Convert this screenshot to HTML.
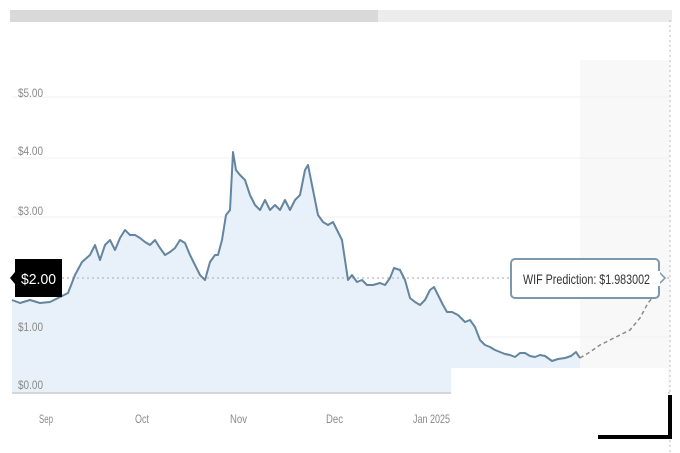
<!DOCTYPE html>
<html><head><style>
body{margin:0;background:#fff;width:680px;height:453px;overflow:hidden;font-family:"Liberation Sans",sans-serif;}
</style></head><body>
<svg width="680" height="453" xmlns="http://www.w3.org/2000/svg" style="position:absolute;left:0;top:0">
<rect x="10" y="10" width="368" height="12" fill="#d9d9d9"/>
<rect x="378" y="10" width="294" height="12" fill="#ececec"/>
<rect x="580" y="60" width="90" height="333" fill="#f8f8f8"/>
<g stroke="#f0f0f0" stroke-width="1">
<line x1="12" y1="97" x2="670" y2="97"/><line x1="12" y1="158" x2="670" y2="158"/>
<line x1="12" y1="217" x2="670" y2="217"/><line x1="12" y1="337" x2="670" y2="337"/>
</g>
<polygon fill="#e8f0f9" points="12,393 12,300 20,303 30,300 40,303 50,302 60,297 68,293 75,275 82,262 90,255 95,245 100,260 105,245 110,240 115,250 120,238 125,230 130,235 135,235 140,238 145,242 150,245 155,240 160,248 165,255 170,252 175,248 180,240 185,243 190,255 195,265 200,275 205,280 210,262 215,255 218,255 222,240 226,215 230,210 233,152 236,170 240,175 245,180 250,195 255,205 260,210 265,200 270,210 275,205 280,210 285,200 290,210 295,200 300,195 305,170 308,165 312,185 318,215 323,222 328,225 333,222 338,232 342,240 345,260 348,280 352,275 357,282 362,280 367,285 373,285 380,283 385,285 390,278 394,268 400,270 405,280 410,298 415,302 420,305 425,300 430,290 434,287 438,295 443,305 447,312 452,312 458,315 465,322 470,320 475,327 480,340 485,345 490,347 495,350 500,352 505,354 510,355 515,357 520,353 525,353 530,356 535,357 540,355 545,356 552,361 558,359 565,358 571,356 576,352 580,358 580,393"/>
<line x1="12" y1="393" x2="670" y2="393" stroke="#ccc" stroke-width="1.5"/>
<line x1="62" y1="278" x2="670" y2="278" stroke="#b0b8c0" stroke-width="1.2" stroke-dasharray="2,3"/>
<line x1="670" y1="20" x2="670" y2="453" stroke="#bbb" stroke-width="1" stroke-dasharray="2,3"/>
<polyline fill="none" stroke="#6485a0" stroke-width="2" stroke-linejoin="round" points="12,300 20,303 30,300 40,303 50,302 60,297 68,293 75,275 82,262 90,255 95,245 100,260 105,245 110,240 115,250 120,238 125,230 130,235 135,235 140,238 145,242 150,245 155,240 160,248 165,255 170,252 175,248 180,240 185,243 190,255 195,265 200,275 205,280 210,262 215,255 218,255 222,240 226,215 230,210 233,152 236,170 240,175 245,180 250,195 255,205 260,210 265,200 270,210 275,205 280,210 285,200 290,210 295,200 300,195 305,170 308,165 312,185 318,215 323,222 328,225 333,222 338,232 342,240 345,260 348,280 352,275 357,282 362,280 367,285 373,285 380,283 385,285 390,278 394,268 400,270 405,280 410,298 415,302 420,305 425,300 430,290 434,287 438,295 443,305 447,312 452,312 458,315 465,322 470,320 475,327 480,340 485,345 490,347 495,350 500,352 505,354 510,355 515,357 520,353 525,353 530,356 535,357 540,355 545,356 552,361 558,359 565,358 571,356 576,352 580,358"/>
<polyline fill="none" stroke="#8a8a8a" stroke-width="1.5" stroke-dasharray="4,3" points="580,358 590,352 600,345 610,340 620,335 630,330 640,318 648,303 653,297"/>
<g fill="#8a8a8a" font-size="12">
<text x="18" y="97" textLength="25" lengthAdjust="spacingAndGlyphs">$5.00</text>
<text x="18" y="155" textLength="25" lengthAdjust="spacingAndGlyphs">$4.00</text>
<text x="18" y="215" textLength="25" lengthAdjust="spacingAndGlyphs">$3.00</text>
<text x="18" y="331" textLength="25" lengthAdjust="spacingAndGlyphs">$1.00</text>
<text x="18" y="389" textLength="25" lengthAdjust="spacingAndGlyphs">$0.00</text>
<text x="39" y="423" textLength="14" lengthAdjust="spacingAndGlyphs">Sep</text>
<text x="135" y="423" textLength="14" lengthAdjust="spacingAndGlyphs">Oct</text>
<text x="230" y="423" textLength="17" lengthAdjust="spacingAndGlyphs">Nov</text>
<text x="326" y="423" textLength="17" lengthAdjust="spacingAndGlyphs">Dec</text>
<text x="413" y="423" textLength="37" lengthAdjust="spacingAndGlyphs">Jan 2025</text>
</g>
<rect x="451" y="368" width="217" height="85" fill="#fff"/>
<rect x="15" y="259" width="47" height="38" fill="#000"/>
<polygon points="15,272 10,278 15,284" fill="#000"/>
<text x="21" y="284" fill="#fff" font-size="15" textLength="35" lengthAdjust="spacingAndGlyphs">$2.00</text>
<rect x="511" y="259" width="148" height="39" rx="4" fill="#fff" stroke="#7d98ac" stroke-width="2"/>
<polygon points="659,272 665,278 659,284" fill="#fff" stroke="#7d98ac" stroke-width="1.5"/>
<rect x="657" y="271" width="3" height="15" fill="#fff"/>
<text x="523" y="284" fill="#333" font-size="14" textLength="127" lengthAdjust="spacingAndGlyphs">WIF Prediction: $1.983002</text>
<rect x="668" y="395" width="4" height="44" fill="#000"/>
<rect x="598" y="435" width="74" height="4" fill="#000"/>
</svg>
</body></html>
